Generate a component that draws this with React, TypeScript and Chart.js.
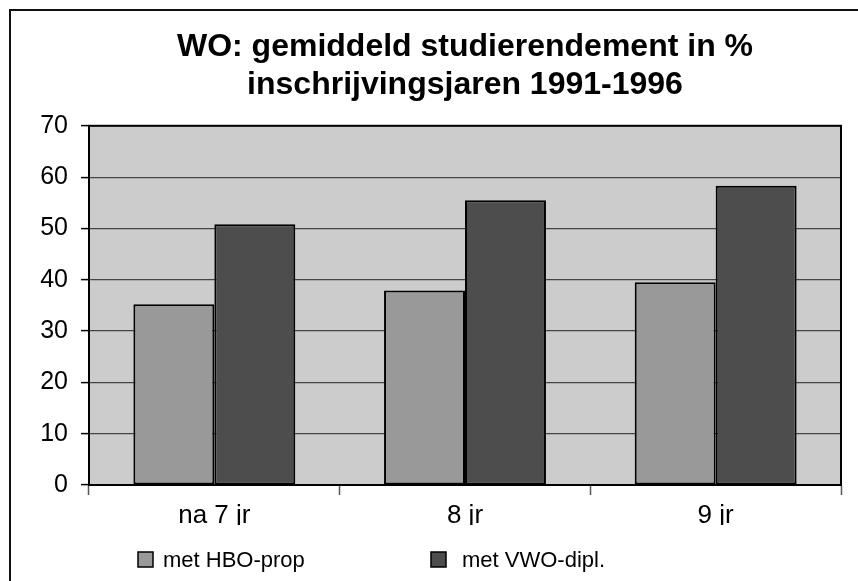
import React, { useEffect, useRef } from "react";
import { Chart, registerables } from "chart.js";

Chart.register(...registerables);

const categories = ["na 7 jr", "8 jr", "9 jr"];
const hboValues = [35.2, 37.9, 39.5];
const vwoValues = [50.8, 55.5, 58.3];
const seriesLabels = ["met HBO-prop", "met VWO-dipl."];
const seriesColors = ["#999999", "#4d4d4d"];
const titleLines = ["WO: gemiddeld studierendement in %", "inschrijvingsjaren 1991-1996"];
const yMin = 0;
const yMax = 70;
const yStep = 10;

const FONT = "'Liberation Sans', Arial, Helvetica, sans-serif";

const plotDecor = {
  id: "plotDecor",
  beforeDraw(chart: any) {
    const { ctx, chartArea } = chart;
    ctx.save();
    ctx.fillStyle = "#cccccc";
    ctx.fillRect(chartArea.left, chartArea.top, chartArea.right - chartArea.left, chartArea.bottom - chartArea.top);
    ctx.restore();
  },
  afterDatasetsDraw(chart: any) {
    const { ctx, chartArea } = chart;
    ctx.save();
    ctx.strokeStyle = "#000000";
    ctx.lineWidth = 2;
    ctx.strokeRect(chartArea.left, chartArea.top, chartArea.right - chartArea.left, chartArea.bottom - chartArea.top);
    ctx.restore();
  },
  afterDraw(chart: any) {
    const { ctx } = chart;
    const xs = [138, 431];
    const textXs = [163, 462];
    const boxY = 552;
    const box = 15;
    ctx.save();
    chart.data.datasets.forEach((ds: any, i: number) => {
      ctx.fillStyle = ds.backgroundColor;
      ctx.fillRect(xs[i], boxY, box, box);
      ctx.strokeStyle = "#000";
      ctx.lineWidth = 1.5;
      ctx.strokeRect(xs[i], boxY, box, box);
      ctx.fillStyle = "#000";
      ctx.font = `22px ${FONT}`;
      ctx.textBaseline = "middle";
      ctx.textAlign = "left";
      ctx.fillText(ds.label, textXs[i], boxY + box / 2 + 1);
    });
    ctx.restore();
  },
};

export default function App() {
  const ref = useRef<HTMLCanvasElement | null>(null);

  useEffect(() => {
    if (!ref.current) return;
    const chart = new Chart(ref.current, {
      type: "bar",
      data: {
        labels: categories,
        datasets: [
          {
            label: seriesLabels[0],
            data: hboValues,
            backgroundColor: seriesColors[0],
            borderColor: "#000",
            borderWidth: 2,
            borderSkipped: false,
          },
          {
            label: seriesLabels[1],
            data: vwoValues,
            backgroundColor: seriesColors[1],
            borderColor: "#000",
            borderWidth: 2,
            borderSkipped: false,
          },
        ],
      },
      options: {
        animation: false,
        responsive: false,
        maintainAspectRatio: false,
        datasets: {
          bar: { categoryPercentage: 0.646, barPercentage: 1 },
        },
        layout: { padding: { left: 0, right: 17, top: 0, bottom: 56 } },
        plugins: {
          legend: { display: false },
          tooltip: { enabled: false },
          title: {
            display: true,
            fullSize: false,
            text: titleLines,
            color: "#000",
            font: { family: FONT, size: 32, weight: "bold", lineHeight: 1.2 },
            padding: { top: 28, bottom: 21 },
          },
        },
        scales: {
          x: {
            offset: true,
            grid: {
              offset: true,
              drawOnChartArea: false,
              drawTicks: true,
              tickLength: 10,
              tickColor: "#555",
              tickWidth: 1.5,
            },
            border: { display: true, color: "#000", width: 2 },
            ticks: { color: "#000", font: { family: FONT, size: 26 }, padding: 5 },
            afterFit(scale: any) {
              scale.height = 40;
            },
          },
          y: {
            min: yMin,
            max: yMax,
            ticks: {
              stepSize: yStep,
              color: "#000",
              font: { family: FONT, size: 25 },
              padding: 13,
            },
            grid: {
              color: "#444444",
              lineWidth: 1.2,
              tickColor: "#000",
              tickLength: 8,
              tickWidth: 1.5,
            },
            border: { display: true, color: "#000", width: 2 },
            afterFit(scale: any) {
              scale.width = 89;
            },
          },
        },
      },
      plugins: [plotDecor],
    });
    return () => chart.destroy();
  }, []);

  return (
    <div
      style={{
        position: "absolute",
        left: 0,
        top: 0,
        width: 858,
        height: 581,
        overflow: "hidden",
        background: "#fff",
      }}
    >
      <div
        style={{
          position: "absolute",
          left: 9,
          top: 9,
          width: 900,
          height: 650,
          border: "2px solid #111",
          boxSizing: "border-box",
        }}
      />
      <canvas
        ref={ref}
        width={858}
        height={581}
        style={{ position: "absolute", left: 0, top: 0, width: 858, height: 581 }}
      />
    </div>
  );
}
